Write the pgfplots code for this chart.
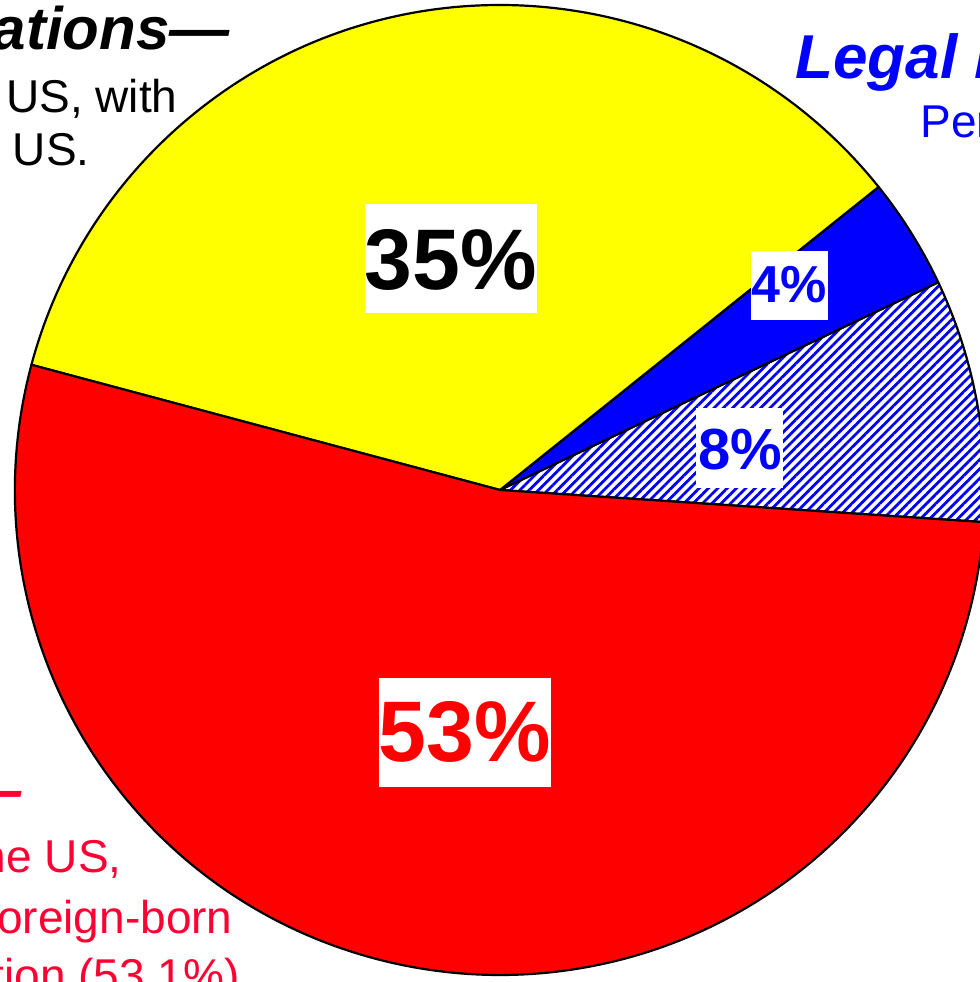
\documentclass[border=0pt]{standalone}
\usepackage{pgfplots}
\pgfplotsset{compat=1.18}
\usepackage{pgfplotstable}
\usetikzlibrary{patterns.meta}
\usepackage{fontspec}
\setmainfont{Liberation Sans}
\definecolor{tred}{RGB}{255,0,51}
\definecolor{pieyel}{RGB}{255,255,0}
\definecolor{piered}{RGB}{255,0,0}
\definecolor{pieblue}{RGB}{0,0,255}
\newcommand{\fs}[1]{\fontsize{#1bp}{#1bp}\selectfont}

\pgfplotstableread{
name value sty
Hatched 8.1 phatch
Legal 3.7 pblue
Other 35.1 pyel
Foreign 53.1 pred
}\piedata

\tikzset{
  phatch/.style={pattern={Lines[angle=45,distance=3.3bp,line width=1.4bp]},pattern color=pieblue},
  pblue/.style={fill=pieblue},
  pyel/.style={fill=pieyel},
  pred/.style={fill=piered},
  pct/.style={anchor=base,inner sep=0pt},
}

\begin{document}
\begin{tikzpicture}
\useasboundingbox (0,0) rectangle (490bp,491bp);
\clip (0,0) rectangle (490bp,491bp);
\begin{axis}[hide axis, scale only axis, width=490bp, height=491bp,
  xmin=0, xmax=980, ymin=0, ymax=982, at={(0,0)}, anchor=south west, clip=false]
\pgfplotsextra{
  \pgfplotstablegetrowsof{\piedata}
  \pgfmathtruncatemacro{\nrows}{\pgfplotsretval-1}
  \xdef\curang{-3.8}
  \foreach \i in {0,...,\nrows}{
    \pgfplotstablegetelem{\i}{value}\of{\piedata}\let\val\pgfplotsretval
    \pgfplotstablegetelem{\i}{sty}\of{\piedata}\let\sty\pgfplotsretval
    \pgfmathsetmacro{\endang}{\curang+3.6*\val}
    \edef\tmp{\noexpand\path[\sty] (axis cs:500,492) -- ++(\curang:242.5bp) arc[start angle=\curang,end angle=\endang,radius=242.5bp] -- cycle;}\tmp
    \edef\tmp{\noexpand\draw[black,line width=1.1bp,line join=round] (axis cs:500,492) -- ++(\curang:242.5bp) arc[start angle=\curang,end angle=\endang,radius=242.5bp] -- cycle;}\tmp
    \xdef\curang{\endang}
  }
  % white label boxes
  \fill[white] (axis cs:365,669) rectangle (axis cs:537,778);
  \fill[white] (axis cs:379,195) rectangle (axis cs:551,304);
  \fill[white] (axis cs:751,662) rectangle (axis cs:828,731);
  \fill[white] (axis cs:696,494) rectangle (axis cs:783,574);
}
% percentage labels
\node[pct,text=black,font=\bfseries\fs{43}] at (axis cs:451,692) {35\%};
\node[pct,text=piered,font=\bfseries\fs{43}] at (axis cs:465,220) {53\%};
\node[pct,text=pieblue,font=\bfseries\fs{26}] at (axis cs:789.5,679) {4\%};
\node[pct,text=pieblue,font=\bfseries\fs{29}] at (axis cs:740,512) {8\%};
% surrounding texts (cropped)
\node[anchor=base east,inner sep=0pt,font=\bfseries\itshape\fs{30}] at (axis cs:230,932) {Other Populations---};
\node[anchor=base east,inner sep=0pt,font=\fs{23}] at (axis cs:178,869) {living in the US, with};
\node[anchor=base east,inner sep=0pt,font=\fs{23}] at (axis cs:90,816) {born in the US.};
\node[anchor=base west,inner sep=0pt,text=pieblue,font=\bfseries\itshape\fs{31}] at (axis cs:795,903) {Legal Immigrants---};
\node[anchor=base west,inner sep=0pt,text=pieblue,font=\fs{23}] at (axis cs:920,844) {Percent};
\node[anchor=base east,inner sep=0pt,text=tred,font=\bfseries\itshape\fs{30}] at (axis cs:22,171) {Immigrants---};
\node[anchor=base east,inner sep=0pt,text=tred,font=\fs{23}] at (axis cs:122,109) {in the US,};
\node[anchor=base east,inner sep=0pt,text=tred,font=\fs{23}] at (axis cs:233,49) {of the foreign-born};
\node[anchor=base east,inner sep=0pt,text=tred,font=\fs{23}] at (axis cs:240,-9) {population (53.1\%)};
\end{axis}
\end{tikzpicture}
\end{document}
